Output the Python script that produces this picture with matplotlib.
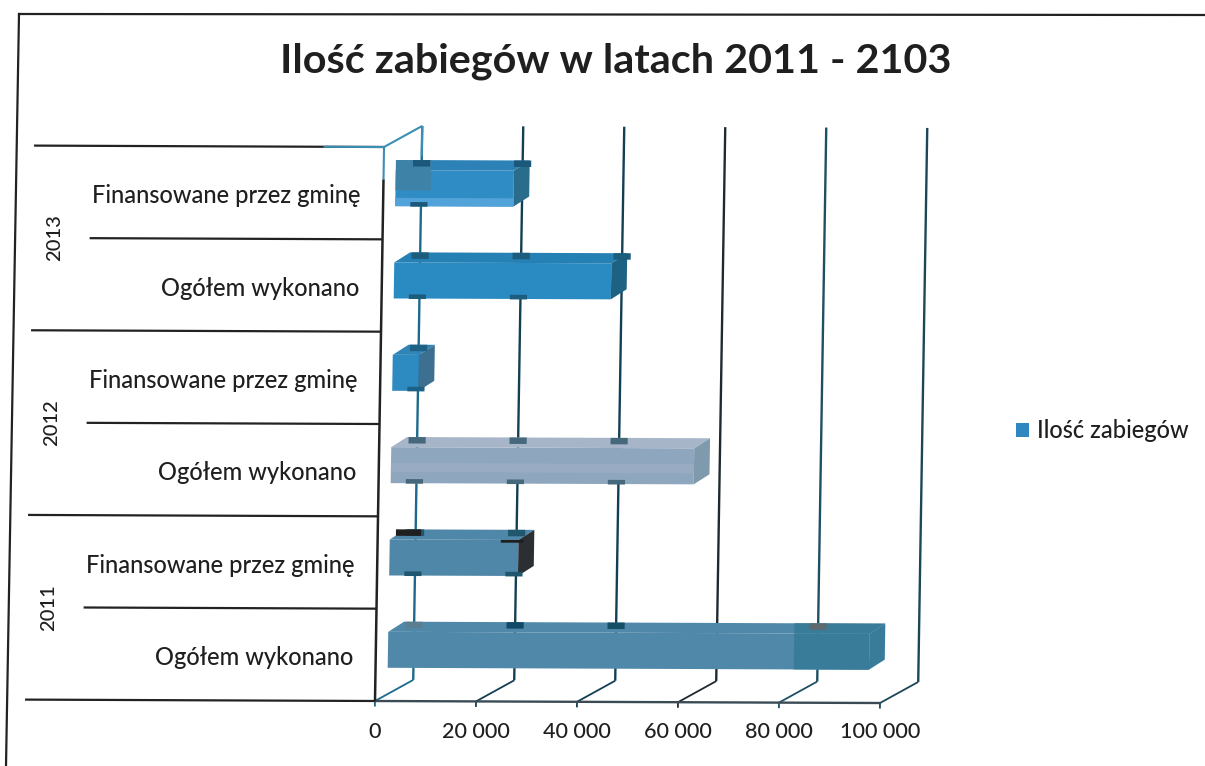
import matplotlib
matplotlib.use("Agg")
matplotlib.rcParams["font.family"] = ["Lato", "DejaVu Sans"]

import matplotlib.pyplot as plt
from matplotlib.lines import Line2D
from matplotlib.patches import Patch, Polygon
from matplotlib.transforms import Affine2D

# -- data ---------------------------------------------------
CATEGORIES = ["Ogółem wykonano", "Finansowane przez gminę"] * 3
YEARS = ["2011", "2012", "2013"]
VALUES = [95300, 25500, 60000, 5200, 43000, 23400]
TICKS = [0, 20000, 40000, 60000, 80000, 100000]
TICK_LABELS = ["0", "20 000", "40 000", "60 000", "80 000", "100 000"]
SERIES = "Ilość zabiegów"
TITLE = "Ilość zabiegów w latach 2011 - 2103"

# -- styles (the scan made every bar a bit different) --------
FRONT = ["#5088a9", "#4f87a8", "#8fa6bf", "#2e8bc2", "#2a8ac2", "#2f8cc4"]
TOP = ["#5088a9", "#4f87a8", "#a6b6c8", "#2f85b8", "#2580b4", "#2c82b6"]
SIDE = ["#387c9a", "#2b2f33", "#7f99ad", "#3d6f90", "#1d6283", "#2a6c8c"]
MARK = ["#4d7a91", "#21566f", "#46687c", "#1f6184", "#1c5c7d", "#1b587a"]
GRID_COL = ["#1b6a8c", "#143f52", "#123f55", "#1f2a30", "#1f4f63", "#1d4657"]
STUB_COL = ["#5b7f92", "#0f4a66", "#144f66", "#2f3f46", "#5d6b70"]
TEAL = "#3a8fb5"
DARK = "#222222"
TEXT = "#1f1f1f"

W, H = 1205, 766
DEPTH_X = 7500    # depth of the chart box, in data units
DEPTH_Y = 0.23
BAR_START = 2400  # bars stand in the middle of the box
BAR_DX = 3100
BAR_DY = 0.11
BAR_Y = 0.36
BAR_H = 0.39

fig = plt.figure(figsize=(W / 100, H / 100), dpi=100, facecolor="white")
ax = fig.add_axes([375 / W, 65 / H, 505 / W, 554 / H])
ax.patch.set_visible(False)
for sp in ax.spines.values():
    sp.set_visible(False)
ax.set_xlim(0, 100000)
ax.set_ylim(0, 6)

# the page was scanned slightly crooked
k, m = 0.0163, -0.004
x0, y0 = 375, 65
crooked = ax.transData + Affine2D.from_values(1, m, k, 1, -k * y0, -m * x0)


def line(xs, ys, color=DARK, lw=1.6, z=1):
    ax.plot(xs, ys, color=color, lw=lw, transform=crooked, clip_on=False,
            zorder=z, solid_capstyle="butt")


def poly(pts, color, z):
    ax.add_patch(Polygon(pts, closed=True, facecolor=color, edgecolor="none",
                         transform=crooked, clip_on=False, zorder=z))


# -- box: walls, floor, grid ---------------------------------
for t, c in zip(TICKS, GRID_COL):
    line([t + DEPTH_X, t + DEPTH_X], [DEPTH_Y, 6 + DEPTH_Y], color=c, lw=1.7)
    line([t, t + DEPTH_X], [0, DEPTH_Y], color=c, lw=1.3)
    line([t, t], [0, -0.06], color=c, lw=1.3)
line([0, 100000], [0, 0], color="#3b4b55", lw=1.7)
line([0, 0], [0, 5.65], color=DARK, lw=1.8)
line([0, 0], [5.65, 6], color=TEAL, lw=1.5)
line([0, DEPTH_X], [6, 6 + DEPTH_Y], color=TEAL, lw=1.5)
line([DEPTH_X, DEPTH_X], [5.9, 6 + DEPTH_Y], color=TEAL, lw=1.5)

# -- category separators and labels --------------------------
for i in range(7):
    start = -69300 if i % 2 == 0 else -58000
    line([start, 0], [i, i], color=DARK, lw=1.6)
line([-12000, 0], [6, 6], color=TEAL, lw=1.5)

for i, name in enumerate(CATEGORIES):
    ax.text(-4500, i + 0.47, name, transform=crooked, ha="right", va="center",
            fontsize=17, fontweight="medium", color=TEXT, clip_on=False)
for i, year in enumerate(YEARS):
    ax.text(-64900, 2 * i + 1, year, transform=crooked, ha="center", va="center",
            rotation=90, fontsize=14.5, fontweight="medium", color=TEXT, clip_on=False)

# -- bars ----------------------------------------------------
ypos = [i + BAR_Y for i in range(len(VALUES))]
ax.barh(ypos, VALUES, left=BAR_START, height=BAR_H, align="edge", color=FRONT,
        transform=crooked, clip_on=False, zorder=3)

for i, v in enumerate(VALUES):
    l, r = BAR_START, BAR_START + v
    b, t = ypos[i], ypos[i] + BAR_H
    poly([(l, t), (l + BAR_DX, t + BAR_DY), (r + BAR_DX, t + BAR_DY), (r, t)], TOP[i], 3)
    poly([(r, b), (r + BAR_DX, b + BAR_DY), (r + BAR_DX, t + BAR_DY), (r, t)], SIDE[i], 3)
    # dark stubs where the grid meets the bar
    for g, sc in zip(TICKS, STUB_COL):
        gx = g + DEPTH_X
        if gx > r + BAR_DX or (i == 0 and g == 60000):
            continue
        col = MARK[i] if i != 0 else sc
        ax.barh(t + BAR_DY - 0.07, 3400, left=gx - 1700, height=0.07, align="edge", color=col,
                transform=crooked, clip_on=False, zorder=4)
        if i != 0 and gx < r + 1200:
            ax.barh(b - 0.005, 3400, left=gx - 1700 - 400, height=0.05, align="edge", color=MARK[i],
                    transform=crooked, clip_on=False, zorder=4)

# blotches left by the scanner
ax.barh(ypos[0], VALUES[0] - 80400, left=BAR_START + 80400, height=BAR_H, align="edge",
        color=SIDE[0], transform=crooked, clip_on=False, zorder=3)
poly([(BAR_START + 80400, ypos[0] + BAR_H),
      (BAR_START + 80400, ypos[0] + BAR_H + BAR_DY),
      (BAR_START + VALUES[0] + BAR_DX, ypos[0] + BAR_H + BAR_DY),
      (BAR_START + VALUES[0], ypos[0] + BAR_H)], SIDE[0], 3)
ax.barh(ypos[5] + 0.17, 7000, left=BAR_START, height=BAR_H + BAR_DY - 0.17, align="edge",
        color="#3f82a8", transform=crooked, clip_on=False, zorder=3.5)
ax.barh(ypos[5], VALUES[5], left=BAR_START, height=0.09, align="edge",
        color="#52a3da", transform=crooked, clip_on=False, zorder=3.5)
ax.barh(ypos[2] + 0.12, VALUES[2], left=BAR_START, height=0.10, align="edge",
        color="#98abc2", transform=crooked, clip_on=False, zorder=3.5)
ax.barh(ypos[1] + BAR_H - 0.03, 4500, left=BAR_START + VALUES[1] - 3500, height=0.03,
        align="edge", color="#1f1f1f", transform=crooked, clip_on=False, zorder=3.5)
ax.barh(ypos[1] + BAR_H + BAR_DY - 0.07, 5000, left=BAR_START + 1200, height=0.07,
        align="edge", color="#1f1f1f", transform=crooked, clip_on=False, zorder=4.5)

# -- axis ----------------------------------------------------
ax.set_yticks([])
ax.set_xticks(TICKS, TICK_LABELS)
ax.tick_params(axis="x", length=0, pad=15, labelsize=15.5, labelcolor=TEXT)
for lab in ax.get_xticklabels():
    lab.set_fontweight("medium")

fig.suptitle(TITLE, x=616 / W, y=1 - 61 / H, ha="center", va="center",
             fontsize=29.8, fontweight="bold", color=TEXT)

fig.legend(handles=[Patch(facecolor="#2f86c1", label=SERIES)], loc="center left",
           bbox_to_anchor=(1016 / W, 1 - 431 / H), frameon=False, fontsize=17,
           borderpad=0, borderaxespad=0, handlelength=0.55, handleheight=0.55,
           handletextpad=0.34, labelcolor=TEXT, prop={"size": 17, "weight": "medium"})

# frame of the original slide
fig.add_artist(Line2D([19 / W, 1], [1 - 14 / H, 1 - 15 / H], color=DARK, lw=1.6))
fig.add_artist(Line2D([19 / W, 6 / W], [1 - 14 / H, 0], color=DARK, lw=1.6))

fig.savefig("out.png", dpi=100)
